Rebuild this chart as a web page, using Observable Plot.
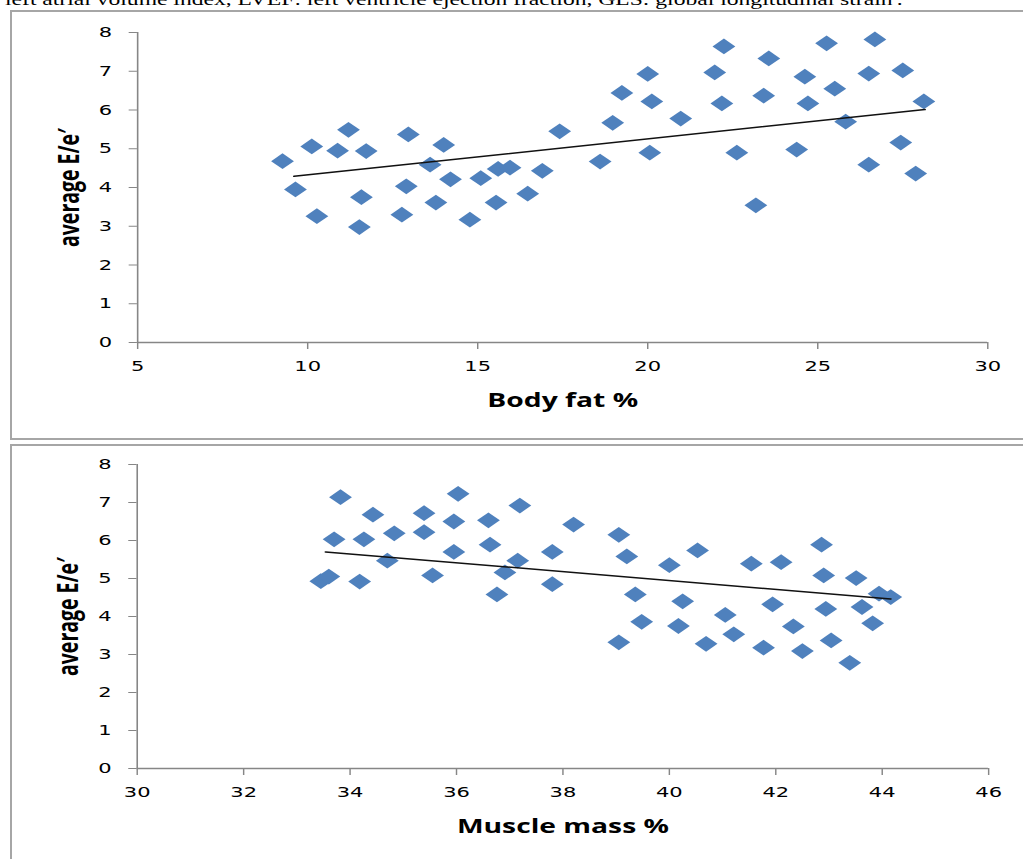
<!DOCTYPE html>
<html><head><meta charset="utf-8">
<script src="https://cdn.jsdelivr.net/npm/d3@7"></script>
<script src="https://cdn.jsdelivr.net/npm/@observablehq/plot@0.6"></script>
<style>
html,body{margin:0;padding:0;background:#fff;}
body{width:1023px;height:859px;overflow:hidden;position:relative;}
.caption{position:absolute;left:5px;top:-7.6px;font-family:"Liberation Serif","Times New Roman",serif;font-size:16.3px;line-height:16.3px;white-space:nowrap;transform:scaleX(1.449);transform-origin:0 0;color:#000;}
.frame{position:absolute;border:2px solid #a6a6a6;box-sizing:border-box;}
.plot{position:absolute;left:0;transform:scaleX(1.449);transform-origin:0 0;}
</style></head><body>
<div class="caption">left atrial volume index, LVEF: left ventricle ejection fraction, GLS: global longitudinal strain'.</div>
<div class="frame" style="left:10px;top:10px;width:1030px;height:430px"></div>
<div class="frame" style="left:10px;top:444px;width:1030px;height:430px"></div>
<div id="top" class="plot" style="top:0"></div>
<div id="bottom" class="plot" style="top:440px"></div>
<script>
// ---- data: top panel (Body fat % vs average E/e')
const fatX = [9.26, 9.64, 10.12, 10.27, 10.88, 11.2, 11.52, 11.58, 11.72, 12.77, 12.9, 12.96, 13.6, 13.77, 14.0, 14.2, 14.77, 15.09, 15.54, 15.6, 15.95, 16.47, 16.9, 17.41, 18.6, 18.97, 19.24, 20.0, 20.06, 20.12, 20.97, 21.97, 22.18, 22.24, 22.62, 23.18, 23.41, 23.56, 24.38, 24.62, 24.71, 25.26, 25.5, 25.82, 26.5, 26.5, 26.68, 27.44, 27.5, 27.88, 28.12];
const fatY = [4.68, 3.95, 5.06, 3.26, 4.95, 5.49, 2.98, 3.75, 4.94, 3.30, 4.03, 5.37, 4.59, 3.61, 5.10, 4.21, 3.17, 4.24, 3.61, 4.48, 4.51, 3.84, 4.43, 5.45, 4.67, 5.67, 6.44, 6.93, 4.90, 6.22, 5.78, 6.97, 6.17, 7.64, 4.90, 3.54, 6.37, 7.33, 4.98, 6.86, 6.17, 7.72, 6.55, 5.70, 6.94, 4.59, 7.82, 5.16, 7.02, 4.36, 6.22];
const fatTrendX = [9.6, 28.15];
const fatTrendY = [4.29, 6.01];
const fatTicks = [5, 10, 15, 20, 25, 30];

// ---- data: bottom panel (Muscle mass % vs average E/e')
const muscleX = [33.82, 36.03, 34.43, 35.39, 37.19, 33.70, 34.26, 34.83, 35.39, 35.95, 36.60, 38.20, 39.05, 36.63, 35.95, 37.80, 39.20, 40.00, 34.70, 37.15, 36.91, 33.45, 33.60, 34.18, 35.55, 36.76, 37.80, 39.36, 39.48, 39.05, 40.53, 41.54, 42.10, 42.86, 42.90, 43.51, 43.94, 44.16, 40.25, 41.94, 42.94, 43.62, 40.17, 41.05, 42.33, 43.82, 40.69, 41.21, 41.77, 42.50, 43.04, 43.39];
const muscleY = [7.14, 7.23, 6.68, 6.72, 6.92, 6.03, 6.03, 6.19, 6.22, 6.50, 6.53, 6.42, 6.15, 5.89, 5.70, 5.70, 5.58, 5.35, 5.47, 5.47, 5.16, 4.93, 5.05, 4.92, 5.08, 4.58, 4.85, 4.58, 3.86, 3.32, 5.74, 5.39, 5.43, 5.89, 5.08, 5.01, 4.60, 4.51, 4.40, 4.32, 4.20, 4.25, 3.75, 4.04, 3.74, 3.82, 3.28, 3.53, 3.18, 3.09, 3.37, 2.78];
const muscleTrendX = [33.54, 44.16];
const muscleTrendY = [5.70, 4.46];
const muscleTicks = [30, 32, 34, 36, 38, 40, 42, 44, 46];

const yTicks = [0, 1, 2, 3, 4, 5, 6, 7, 8];
const yTitle = "average E/e\u2032";
const fatTitle = "Body fat %";
const muscleTitle = "Muscle mass %";

const COLOR = "#4F81BD";
const AXIS = "#868686";

function panel({xs, ys, tx, ty, xTicks, xDomain, xTitle, height, mt, mb, ml, mr}) {
  const pts = xs.map((x, i) => ({x, y: ys[i]}));
  const trend = tx.map((x, i) => ({x, y: ty[i]}));
  return Plot.plot({
    width: 706, height,
    marginTop: mt, marginBottom: mb, marginLeft: ml, marginRight: mr,
    style: {fontFamily: "DejaVu Sans", fontSize: "14px", background: "transparent", overflow: "visible"},
    x: {domain: xDomain, label: null},
    y: {domain: [0, 8], label: null},
    marks: [
      Plot.ruleX([xDomain[0]], {stroke: AXIS, strokeWidth: 1.1}),
      Plot.ruleY([0], {stroke: AXIS, strokeWidth: 1.4}),
      Plot.axisY(yTicks, {anchor: "left", tickSize: 5.7, tickPadding: 12, stroke: AXIS, fill: "#000", fontSize: 14.5, label: null}),
      Plot.axisX(xTicks, {anchor: "bottom", tickSize: 7, tickPadding: 11.5, stroke: AXIS, fill: "#000", fontSize: 14.5, label: null}),
      Plot.dot(pts, {x: "x", y: "y", symbol: "diamond2", r: 7.1, fill: COLOR, stroke: "none"}),
      Plot.line(trend, {x: "x", y: "y", stroke: "#111", strokeWidth: 1.5}),
      Plot.text([xTitle], {frameAnchor: "bottom", dy: 58, textAnchor: "middle", lineAnchor: "middle", fontFamily: "Open Sans", fontWeight: 700, fontSize: 19.5, fill: "#000"}),
      Plot.text([yTitle], {frameAnchor: "left", dx: -47, rotate: -90, textAnchor: "middle", lineAnchor: "middle", fontFamily: "Open Sans", fontWeight: 700, fontSize: 19.5, fill: "#000"})
    ]
  });
}

document.getElementById("top").append(panel({
  xs: fatX, ys: fatY, tx: fatTrendX, ty: fatTrendY, xTicks: fatTicks, xDomain: [5, 30], xTitle: fatTitle,
  height: 440, mt: 32, mb: 98, ml: 94.5, mr: 24.8
}));
document.getElementById("bottom").append(panel({
  xs: muscleX, ys: muscleY, tx: muscleTrendX, ty: muscleTrendY, xTicks: muscleTicks, xDomain: [30, 46], xTitle: muscleTitle,
  height: 419, mt: 24, mb: 91, ml: 94.2, mr: 24.2
}));
</script>
</body></html>
